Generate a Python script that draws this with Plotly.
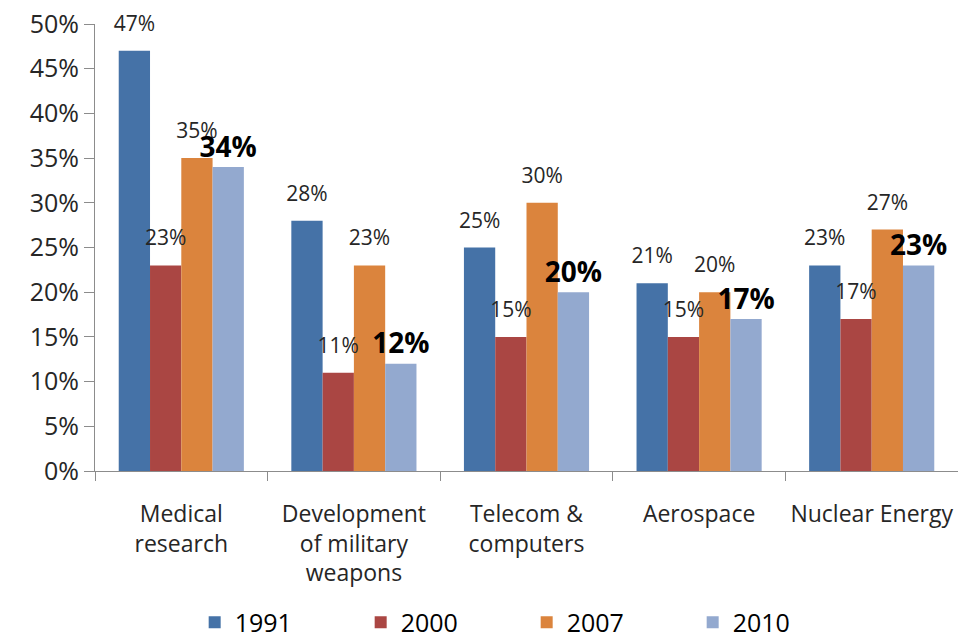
import plotly.graph_objects as go

# ---- data ----
categories = ['Medical<br>research', 'Development<br>of military<br>weapons',
              'Telecom &amp;<br>computers', 'Aerospace', 'Nuclear Energy']
years = ['1991', '2000', '2007', '2010']
v1991 = [47, 28, 25, 21, 23]
v2000 = [23, 11, 15, 15, 17]
v2007 = [35, 23, 30, 20, 27]
v2010 = [34, 12, 20, 17, 23]
y_ticks = [0, 5, 10, 15, 20, 25, 30, 35, 40, 45, 50]

series = [v1991, v2000, v2007, v2010]
colors = ['#4572A7', '#AA4643', '#DB843D', '#93A9CF']
font_name = 'Open Sans, sans-serif'

fig = go.Figure()

# bars
for name, vals, col in zip(years, series, colors):
    fig.add_trace(go.Bar(name=name, x=categories, y=vals,
                         marker={'color': col, 'line': {'width': 0}}))

# value labels (grouped scatter so they sit over their bars)
for name, vals in zip(years, series):
    bold = name == '2010'
    fig.add_trace(go.Scatter(x=categories, y=vals, mode='markers+text',
                             text=['%d%%' % v for v in vals],
                             textposition='top center', cliponaxis=False,
                             marker={'size': 4 if bold else 22, 'opacity': 0},
                             textfont={'family': font_name, 'color': '#000' if bold else '#262626',
                                       'size': 28 if bold else 21,
                                       'weight': 'bold' if bold else 'normal'},
                             showlegend=False, hoverinfo='skip'))

# page body has an 8px margin, so the figure is drawn 8px smaller
fig.update_layout(barmode='group', scattermode='group', bargap=0.275, bargroupgap=0,
                  width=958, height=629,
                  margin=dict(l=87, r=8, t=16, b=166),
                  paper_bgcolor='white', plot_bgcolor='white',
                  font=dict(family=font_name, color='#262626'),
                  legend=dict(orientation='h', x=0.1155, y=0.023, yref='container',
                              xanchor='left', yanchor='middle',
                              font=dict(size=25, color='#000'), entrywidth=121,
                              traceorder='normal'))

fig.update_yaxes(range=[0, 50], tickvals=y_ticks, ticktext=['%d%%' % t for t in y_ticks],
                 showgrid=False, zeroline=False, showline=True, linecolor='#8c8c8c',
                 linewidth=1, ticks='outside', ticklen=10, tickcolor='#8c8c8c',
                 tickfont=dict(size=25, color='#262626'), automargin=False,
                 ticklabeloverflow='allow')
fig.update_xaxes(showgrid=False, showline=True, linecolor='#8c8c8c', linewidth=1,
                 ticks='outside', tickson='boundaries', ticklen=9, tickcolor='#8c8c8c',
                 tickfont=dict(size=23, color='#262626'), ticklabelstandoff=22,
                 automargin=False)

fig.write_html("out.html")
